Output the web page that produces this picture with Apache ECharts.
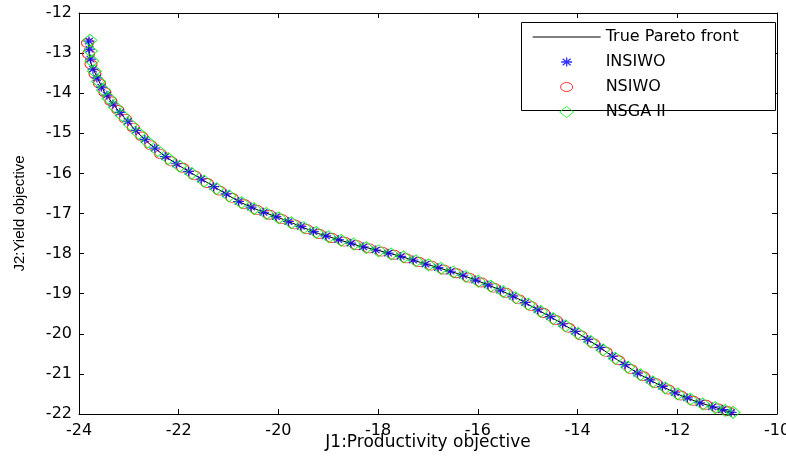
<!DOCTYPE html>
<html>
<head>
<meta charset="utf-8">
<script src="https://cdn.jsdelivr.net/npm/echarts@6/dist/echarts.min.js"></script>
<style>html,body{margin:0;padding:0;background:#fff}#c{width:786px;height:459px}</style>
</head>
<body>
<div id="c"></div>
<script>
var seriesNames = ['True Pareto front', 'INSIWO', 'NSIWO', 'NSGA II'];
var xTicks = [-24, -22, -20, -18, -16, -14, -12, -10];
var yTicks = [-22, -21, -20, -19, -18, -17, -16, -15, -14, -13, -12];

var trueFront = [[-23.82,-12.65],[-23.80,-13.00],[-23.75,-13.30],[-23.62,-13.65],[-23.50,-13.95],[-23.30,-14.30],[-23.10,-14.60],[-22.85,-14.95],[-22.60,-15.25],[-22.30,-15.55],[-22.00,-15.80],[-21.60,-16.10],[-21.20,-16.40],[-20.80,-16.70],[-20.40,-16.92],[-20.00,-17.10],[-19.60,-17.30],[-19.20,-17.50],[-18.80,-17.65],[-18.40,-17.80],[-18.00,-17.92],[-17.60,-18.05],[-17.20,-18.20],[-16.80,-18.35],[-16.40,-18.50],[-16.00,-18.68],[-15.60,-18.88],[-15.20,-19.12],[-14.80,-19.40],[-14.40,-19.68],[-14.00,-19.98],[-13.60,-20.30],[-13.20,-20.65],[-12.80,-20.98],[-12.40,-21.25],[-12.00,-21.50],[-11.60,-21.70],[-11.20,-21.85],[-10.90,-21.97]];

var insiwo = [[-23.80,-12.70],[-23.79,-12.90],[-23.77,-13.15],[-23.72,-13.40],[-23.64,-13.62],[-23.55,-13.85],[-23.44,-14.05],[-23.32,-14.27],[-23.18,-14.48],[-23.02,-14.70],[-22.86,-14.93],[-22.68,-15.15],[-22.48,-15.37],[-22.27,-15.58],[-22.05,-15.76],[-21.80,-15.95],[-21.55,-16.14],[-21.30,-16.33],[-21.05,-16.51],[-20.80,-16.70],[-20.55,-16.84],[-20.30,-16.97],[-20.05,-17.08],[-19.80,-17.20],[-19.55,-17.32],[-19.30,-17.45],[-19.05,-17.56],[-18.80,-17.65],[-18.55,-17.74],[-18.30,-17.83],[-18.05,-17.91],[-17.80,-17.99],[-17.55,-18.07],[-17.30,-18.16],[-17.05,-18.26],[-16.80,-18.35],[-16.55,-18.44],[-16.30,-18.54],[-16.05,-18.66],[-15.80,-18.78],[-15.55,-18.91],[-15.30,-19.06],[-15.05,-19.22],[-14.80,-19.40],[-14.55,-19.57],[-14.30,-19.75],[-14.05,-19.94],[-13.80,-20.14],[-13.55,-20.34],[-13.30,-20.56],[-13.05,-20.77],[-12.80,-20.98],[-12.55,-21.15],[-12.30,-21.31],[-12.05,-21.47],[-11.80,-21.60],[-11.55,-21.72],[-11.30,-21.82],[-11.10,-21.89],[-10.92,-21.96]];

var nsiwo = [[-23.83,-12.75],[-23.81,-13.02],[-23.76,-13.28],[-23.68,-13.52],[-23.59,-13.76],[-23.48,-13.98],[-23.36,-14.20],[-23.22,-14.42],[-23.07,-14.64],[-22.91,-14.86],[-22.74,-15.08],[-22.56,-15.30],[-22.36,-15.52],[-22.15,-15.70],[-21.92,-15.86],[-21.68,-16.05],[-21.43,-16.24],[-21.18,-16.43],[-20.93,-16.61],[-20.68,-16.77],[-20.43,-16.91],[-20.18,-17.03],[-19.93,-17.14],[-19.68,-17.27],[-19.43,-17.39],[-19.18,-17.51],[-18.93,-17.61],[-18.68,-17.70],[-18.43,-17.79],[-18.18,-17.87],[-17.93,-17.95],[-17.68,-18.03],[-17.43,-18.12],[-17.18,-18.21],[-16.93,-18.30],[-16.68,-18.40],[-16.43,-18.49],[-16.18,-18.60],[-15.93,-18.72],[-15.68,-18.85],[-15.43,-18.98],[-15.18,-19.14],[-14.93,-19.31],[-14.68,-19.48],[-14.43,-19.66],[-14.18,-19.85],[-13.93,-20.04],[-13.68,-20.24],[-13.43,-20.45],[-13.18,-20.66],[-12.93,-20.88],[-12.68,-21.06],[-12.43,-21.23],[-12.18,-21.39],[-11.93,-21.54],[-11.68,-21.67],[-11.43,-21.77],[-11.18,-21.86],[-10.98,-21.93]];

var nsga2 = [[-23.78,-12.68],[-23.77,-12.95],[-23.74,-13.20],[-23.69,-13.45],[-23.61,-13.70],[-23.51,-13.92],[-23.40,-14.13],[-23.27,-14.35],[-23.13,-14.56],[-22.97,-14.78],[-22.80,-15.00],[-22.62,-15.22],[-22.42,-15.43],[-22.21,-15.63],[-21.98,-15.82],[-21.74,-16.00],[-21.49,-16.19],[-21.24,-16.38],[-20.99,-16.56],[-20.74,-16.73],[-20.49,-16.88],[-20.24,-17.00],[-19.99,-17.11],[-19.74,-17.23],[-19.49,-17.35],[-19.24,-17.47],[-18.99,-17.58],[-18.74,-17.67],[-18.49,-17.76],[-18.24,-17.85],[-17.99,-17.93],[-17.74,-18.01],[-17.49,-18.08],[-17.24,-18.18],[-16.99,-18.28],[-16.74,-18.37],[-16.49,-18.46],[-16.24,-18.57],[-15.99,-18.69],[-15.74,-18.81],[-15.49,-18.95],[-15.24,-19.10],[-14.99,-19.26],[-14.74,-19.44],[-14.49,-19.62],[-14.24,-19.80],[-13.99,-19.99],[-13.74,-20.19],[-13.49,-20.40],[-13.24,-20.61],[-12.99,-20.83],[-12.74,-21.02],[-12.49,-21.20],[-12.24,-21.35],[-11.99,-21.50],[-11.74,-21.63],[-11.49,-21.75],[-11.24,-21.84],[-11.04,-21.91],[-10.88,-21.96]];

var FONT_H = 'DejaVu Sans, sans-serif';
var FONT_V = 'Liberation Sans, Arial, sans-serif';
var starSym = 'path://M5.5,0L5.5,9M0,4.5L11,4.5M1.6,1.3L9.4,7.7M1.6,7.7L9.4,1.3';
var BOX = 'M0,0M68,12';
var iconLine = 'path://' + BOX + 'M0,5.5L68,5.5L68,6.5L0,6.5Z';
var iconStar = 'path://' + BOX + 'M34,1.5L34,10.5M28.5,6L39.5,6M30,2.8L38,9.2M30,9.2L38,2.8';
var iconCircle = 'path://' + BOX + 'M28,6A6,4.5,0,1,1,40,6A6,4.5,0,1,1,28,6Z';
var iconDiamond = 'path://' + BOX + 'M34,0.5L41,6L34,11.5L27,6Z';

function axisCommon(isX, pos, labels) {
  return {
    type: 'value', position: pos,
    min: isX ? -24 : -22, max: isX ? -10 : -12, interval: isX ? 2 : 1,
    axisLine: { show: true, onZero: false, lineStyle: { color: '#000', width: 1 } },
    axisTick: { show: true, inside: true, length: 5, lineStyle: { color: '#000' } },
    axisLabel: { show: labels, color: '#000', fontFamily: FONT_H, fontSize: 16, margin: isX ? 9 : 7 },
    splitLine: { show: false }
  };
}

var xBottom = axisCommon(true, 'bottom', true);
xBottom.name = 'J1:Productivity objective';
xBottom.nameLocation = 'middle';
xBottom.nameGap = 20;
xBottom.nameMoveOverlap = false;
xBottom.nameTextStyle = { color: '#000', fontFamily: FONT_H, fontSize: 17, verticalAlign: 'top' };
var xTop = axisCommon(true, 'top', false);
var yLeft = axisCommon(false, 'left', true);
yLeft.name = 'J2:Yield objective';
yLeft.nameLocation = 'middle';
yLeft.nameGap = 52;
yLeft.nameTextStyle = { color: '#000', fontFamily: FONT_V, fontSize: 15 };
var yRight = axisCommon(false, 'right', false);

var chart = echarts.init(document.getElementById('c'));
chart.setOption({
  animation: false,
  backgroundColor: '#fff',
  grid: { left: 79, right: 9, top: 13, bottom: 45, containLabel: false, outerBoundsMode: 'none' },
  xAxis: [xBottom, xTop],
  yAxis: [yLeft, yRight],
  graphic: [{
    type: 'rect', left: 521, top: 22, z: 10,
    shape: { width: 254, height: 88 },
    style: { fill: '#fff', stroke: '#000', lineWidth: 1 }
  }],
  legend: {
    orient: 'vertical', left: 532, top: 29, z: 20,
    padding: 0,
    itemWidth: 68, itemHeight: 12, itemGap: 9,
    textStyle: { color: '#000', fontFamily: FONT_H, fontSize: 16 },
    data: [
      { name: seriesNames[0], icon: iconLine, itemStyle: { color: '#000', borderWidth: 0 } },
      { name: seriesNames[1], icon: iconStar, itemStyle: { color: '#0000ff', borderColor: '#0000ff', borderWidth: 1.3 } },
      { name: seriesNames[2], icon: iconCircle, itemStyle: { color: 'rgba(0,0,0,0)', borderColor: '#ff0000', borderWidth: 1 } },
      { name: seriesNames[3], icon: iconDiamond, itemStyle: { color: 'rgba(0,0,0,0)', borderColor: '#00ee00', borderWidth: 1 } }
    ]
  },
  series: [
    { name: seriesNames[0], type: 'line', data: trueFront, showSymbol: false, symbol: 'none',
      lineStyle: { color: '#000', width: 1 }, itemStyle: { color: '#000' }, z: 1 },
    { name: seriesNames[1], type: 'scatter', data: insiwo, symbol: starSym, symbolSize: [11, 9], symbolKeepAspect: false,
      itemStyle: { color: '#0000ff', borderColor: '#0000ff', borderWidth: 1.3 }, z: 4 },
    { name: seriesNames[2], type: 'scatter', data: nsiwo, symbol: 'circle', symbolSize: [12, 9],
      itemStyle: { color: 'rgba(0,0,0,0)', borderColor: '#ff0000', borderWidth: 1 }, z: 3 },
    { name: seriesNames[3], type: 'scatter', data: nsga2, symbol: 'diamond', symbolSize: [14, 12],
      itemStyle: { color: 'rgba(0,0,0,0)', borderColor: '#00ee00', borderWidth: 1 }, z: 5 }
  ]
});
</script>
</body>
</html>
